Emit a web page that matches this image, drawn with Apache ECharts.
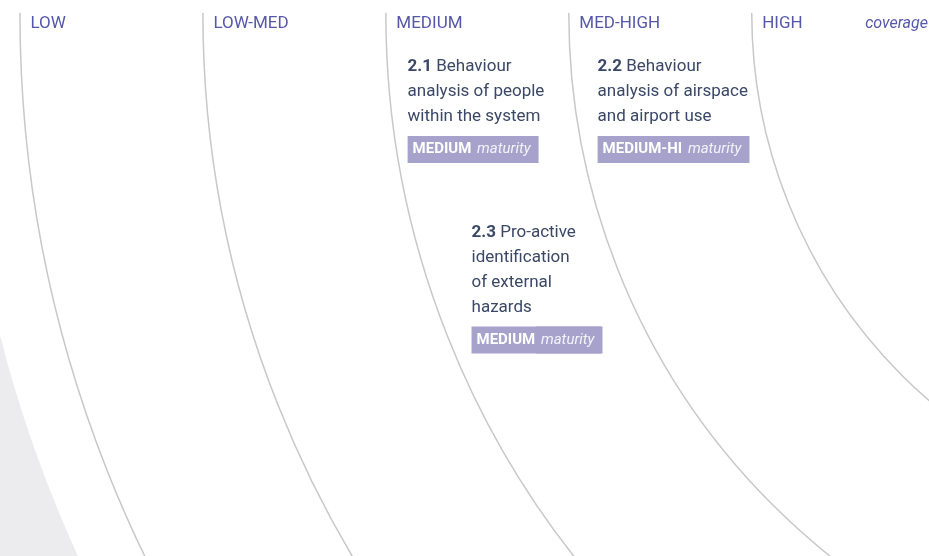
<!DOCTYPE html>
<html>
<head>
<meta charset="utf-8">
<title>coverage</title>
<script src="https://cdn.jsdelivr.net/npm/echarts@6/dist/echarts.min.js"></script>
<style>
  html, body { margin: 0; padding: 0; background: #fff; }
  #chart { width: 929px; height: 556px; }
</style>
</head>
<body>
<div id="chart"></div>
<script>
// coverage bands, outermost ring first (index = band position)
const coverageLevels = ['LOW', 'LOW-MED', 'MEDIUM', 'MED-HIGH', 'HIGH']
const levelIndex = [0, 1, 2, 3, 4]
const shadeEdge = [-0.33]

// items: radial position (band units) and angle below the horizontal
const itemIds = ['2.1', '2.2', '2.3']
const itemTitles = [
  ['Behaviour', 'analysis of people', 'within the system'],
  ['Behaviour', 'analysis of airspace', 'and airport use'],
  ['Pro-active', 'identification', 'of external', 'hazards']
]
const itemMaturity = ['MEDIUM', 'MEDIUM-HI', 'MEDIUM']
const itemCoverage = [2.116, 3.153, 2.325]
const itemAngle = [2.81, 3.61, 14.68]

const FONT = 'Roboto, "Liberation Sans", sans-serif'
const LABEL_COLOR = '#5558a8'
const TEXT_COLOR = '#3a4766'
const BADGE_COLOR = '#a6a2cc'

const chart = echarts.init(document.getElementById('chart'))

// radius of a ring for a given band value, via the polar scale
const ringRadius = (params, api, v) => {
  const p = api.coord([v, 0])
  return Math.hypot(p[0] - params.coordSys.cx, p[1] - params.coordSys.cy)
}

const itemLabel = (i) => {
  const lines = itemTitles[i].map((t, j) => j === 0
    ? `{num|${itemIds[i]}}{txt| ${t}}`
    : `{txt|${t}}`)
  lines.push(`{bb|${itemMaturity[i]}}{bi| maturity}`)
  return lines.join('\n')
}

const badge = {
  fontFamily: FONT,
  fontSize: 15,
  backgroundColor: BADGE_COLOR,
  lineHeight: 40
}

// invisible anchor symbols, fully opaque so the labels are not faded
const hiddenSymbol = { color: 'rgba(0,0,0,0)', opacity: 1 }

const option = {
  backgroundColor: '#fff',
  animation: false,
  polar: {
    center: [1264, 13],
    radius: 1427
  },
  angleAxis: {
    type: 'value',
    min: 0,
    max: 360,
    startAngle: 180,
    clockwise: false,
    show: false
  },
  radiusAxis: {
    type: 'value',
    min: -1,
    max: 6.8,
    inverse: true,
    show: false
  },
  graphic: [
    {
      type: 'text',
      right: 1,
      top: 16,
      style: {
        text: 'coverage',
        fontFamily: FONT,
        fontSize: 16,
        fontStyle: 'italic',
        fill: LABEL_COLOR
      }
    }
  ],
  series: [
    {
      // grey shaded area beyond the outer ring
      type: 'custom',
      coordinateSystem: 'polar',
      silent: true,
      z: 1,
      encode: { radius: 0, angle: 1 },
      data: shadeEdge.map(v => [v, 0]),
      renderItem: (params, api) => {
        const r = ringRadius(params, api, api.value(0))
        return {
          type: 'sector',
          shape: {
            cx: params.coordSys.cx,
            cy: params.coordSys.cy,
            r0: r,
            r: r + 2000,
            startAngle: Math.PI / 2,
            endAngle: Math.PI
          },
          style: { fill: '#ececee' }
        }
      }
    },
    {
      // band rings
      type: 'custom',
      coordinateSystem: 'polar',
      silent: true,
      z: 2,
      encode: { radius: 0, angle: 1 },
      data: levelIndex.map(k => [k, 0]),
      renderItem: (params, api) => {
        const r = ringRadius(params, api, api.value(0))
        return {
          type: 'arc',
          shape: {
            cx: params.coordSys.cx,
            cy: params.coordSys.cy,
            r: r,
            startAngle: Math.PI / 2,
            endAngle: Math.PI
          },
          style: { stroke: '#c8c8c8', lineWidth: 1.5, fill: 'none' }
        }
      }
    },
    {
      // band names at the top of each ring
      type: 'scatter',
      coordinateSystem: 'polar',
      symbolSize: 1,
      itemStyle: hiddenSymbol,
      z: 3,
      data: levelIndex.map(k => [k, 0]),
      label: {
        show: true,
        position: 'right',
        distance: 10,
        offset: [0, 11],
        formatter: p => coverageLevels[p.dataIndex],
        color: LABEL_COLOR,
        fontFamily: FONT,
        fontSize: 17
      }
    },
    {
      // items with maturity badges
      type: 'scatter',
      coordinateSystem: 'polar',
      symbolSize: 1,
      itemStyle: hiddenSymbol,
      z: 4,
      data: itemCoverage.map((v, i) => [v, itemAngle[i]]),
      label: {
        show: true,
        position: [0, 0],
        align: 'left',
        verticalAlign: 'top',
        formatter: p => itemLabel(p.dataIndex),
        rich: {
          num: { fontFamily: FONT, fontSize: 17, fontWeight: 'bold', color: TEXT_COLOR, lineHeight: 25 },
          txt: { fontFamily: FONT, fontSize: 17, color: TEXT_COLOR, lineHeight: 25 },
          bb: Object.assign({}, badge, { fontWeight: 'bold', color: '#fff', padding: [6, 2, 6, 5] }),
          bi: Object.assign({}, badge, {
            fontStyle: 'italic',
            color: '#f4f3fa',
            padding: [6, 8, 6, 0],
            // same-colour box shadow closes the hairline seam between the two halves
            shadowColor: BADGE_COLOR,
            shadowBlur: 0,
            shadowOffsetX: -1.5
          })
        }
      }
    }
  ]
}

chart.setOption(option)
</script>
</body>
</html>
